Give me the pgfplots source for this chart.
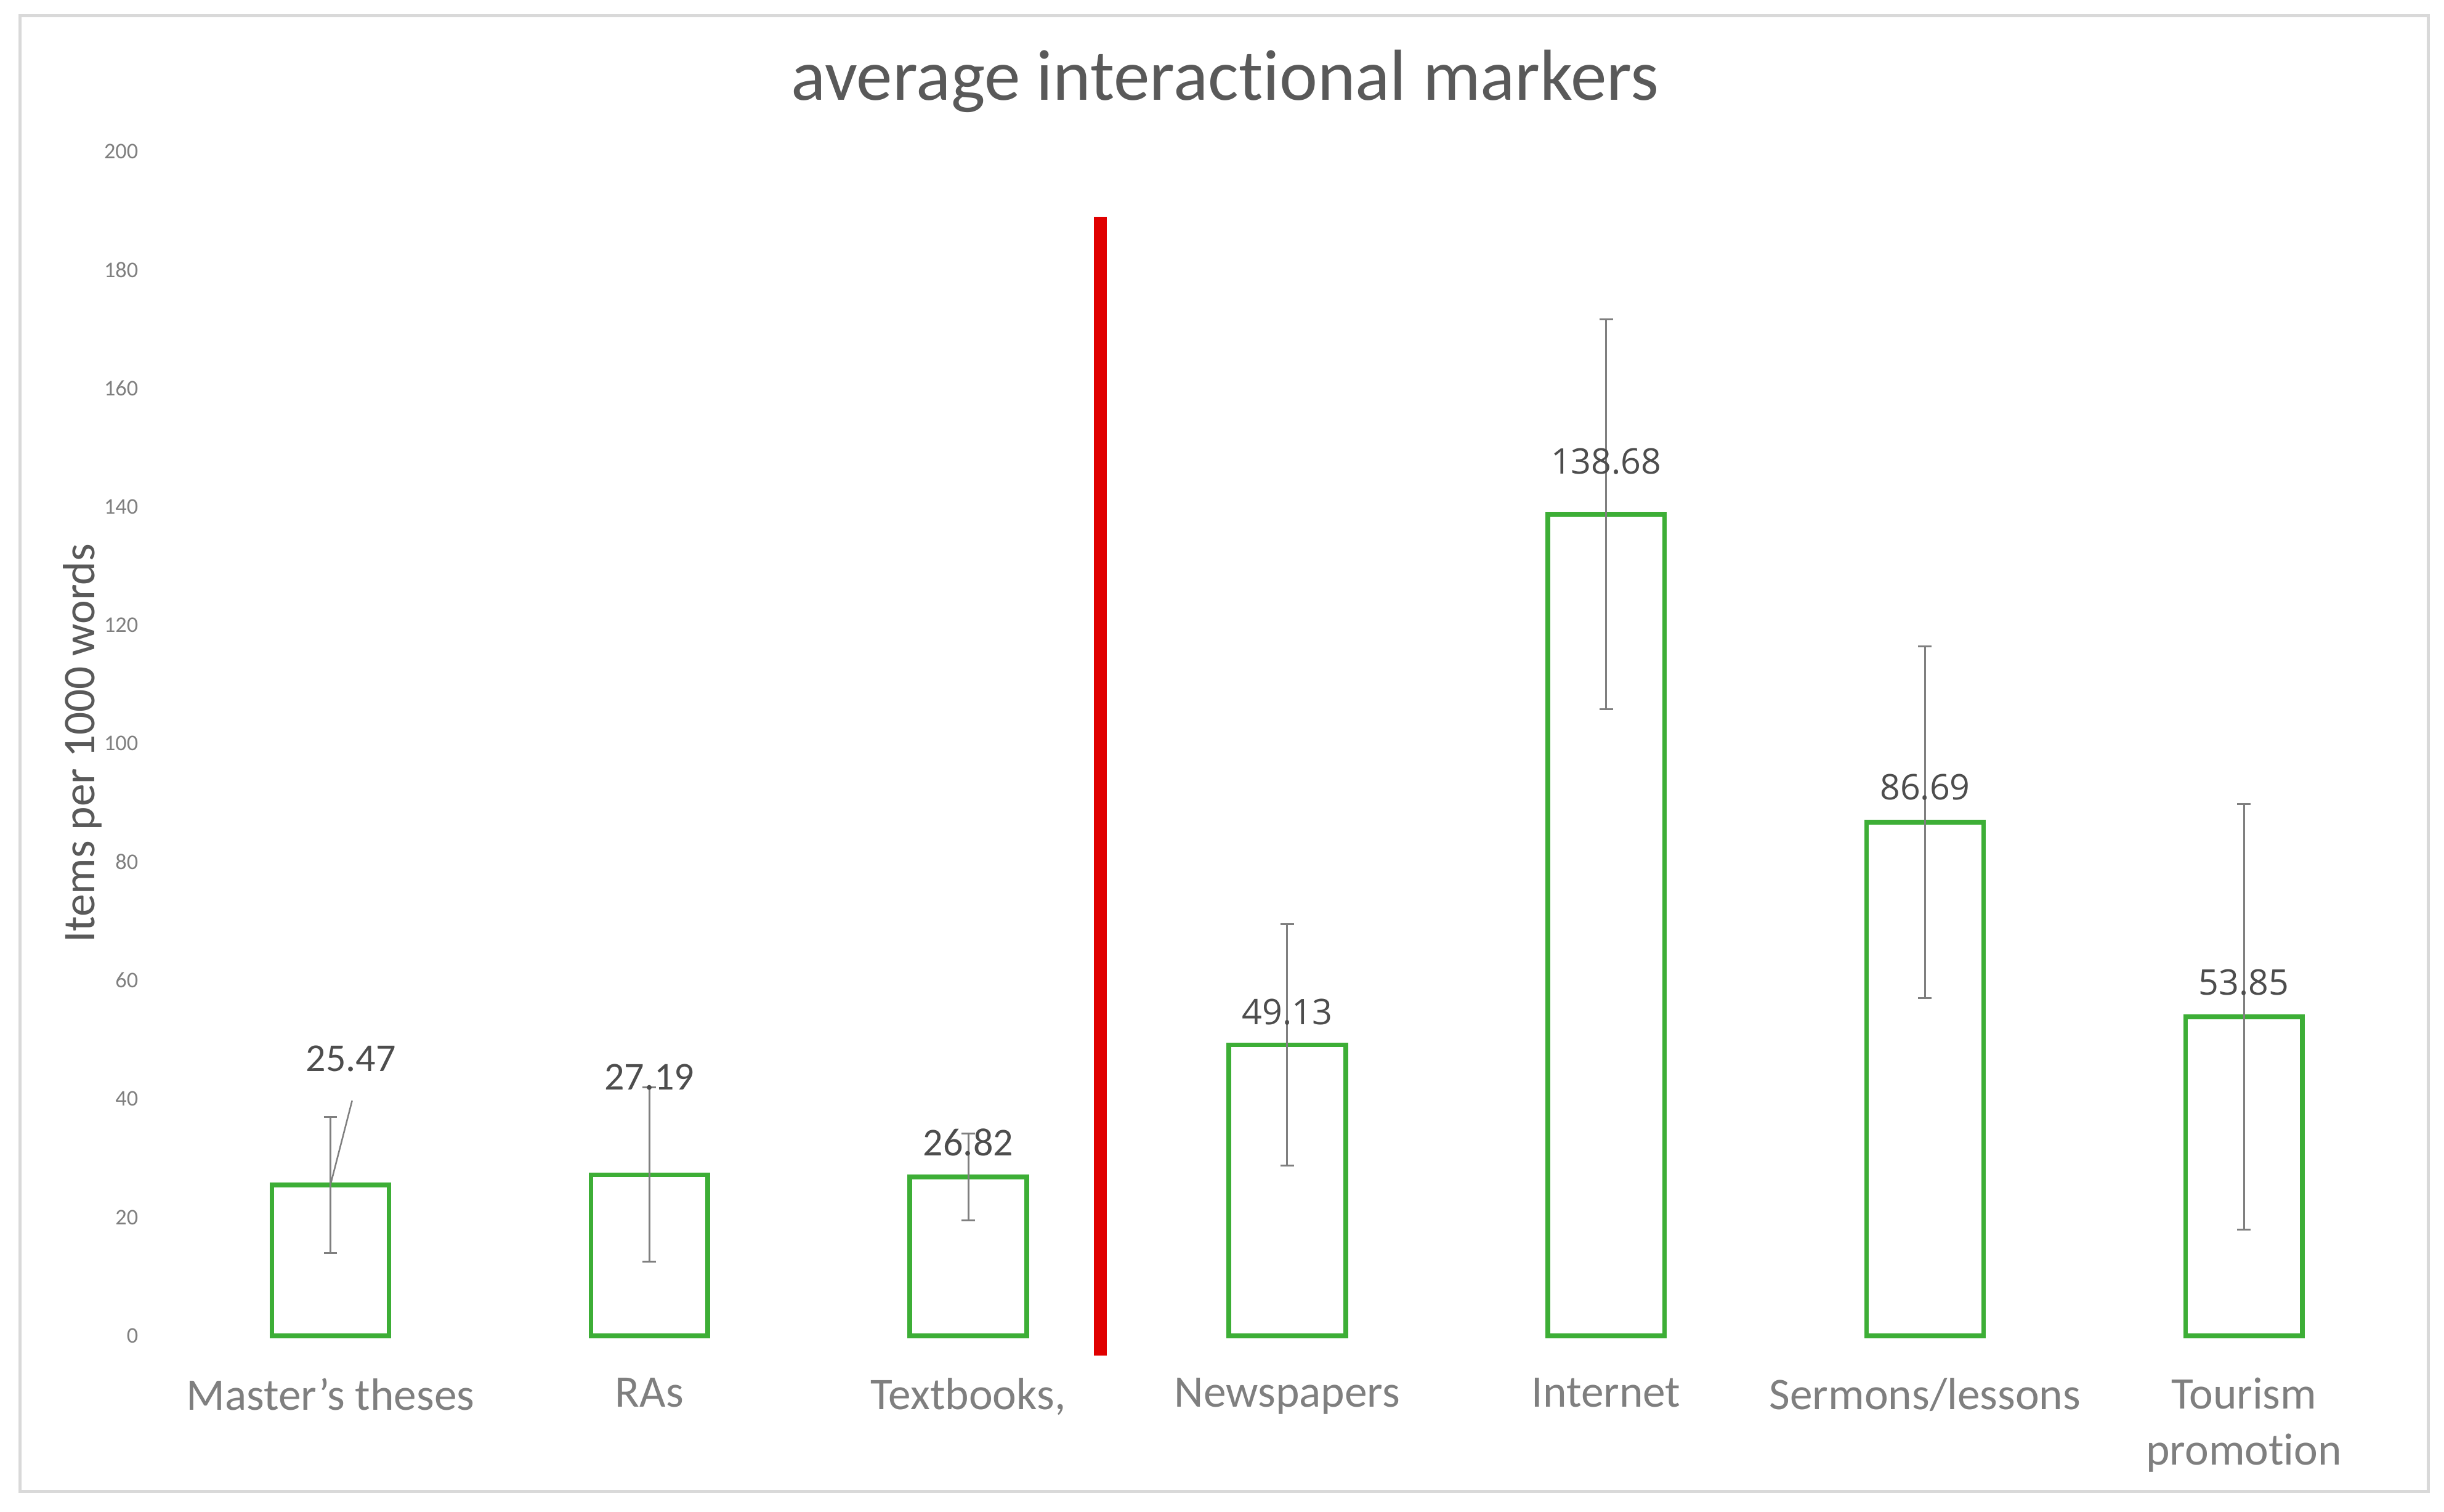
\documentclass[border=0pt]{standalone}
\usepackage{pgfplots}
\pgfplotsset{compat=1.18}
\usepackage{fontspec}
\setmainfont{Carlito}[Ligatures=NoCommon]
\newfontfamily\opensans{Open Sans}
\definecolor{bargreen}{HTML}{3DAE36}
\definecolor{errgray}{HTML}{7F7F7F}
\definecolor{titlegray}{HTML}{595959}
\definecolor{ticklab}{HTML}{7F7F7F}
\definecolor{labgray}{HTML}{4D4D4D}
\definecolor{framegray}{HTML}{D9D9D9}
\definecolor{redline}{HTML}{E00000}
\begin{document}
\begin{tikzpicture}[x=0.3pt,y=-0.3pt]
\path[fill=white] (0,0) rectangle (1568,970);
\draw[framegray, line width=0.6pt] (13,10) rectangle (1558,957);
\begin{axis}[
  at={(32.91pt,-257.1pt)}, anchor=south west,
  scale only axis, width=429.69pt, height=228pt,
  xmin=-0.5, xmax=6.5, ymin=0, ymax=200,
  clip=false,
  axis line style={draw=none},
  major tick length=0pt,
  xtick={0,1,2,3,4,5,6},
  xticklabels={Master’s theses, RAs, {Textbooks,}, Newspapers, Internet, Sermons/lessons, Tourism\\promotion},
  xticklabel style={font=\fontsize{8.7pt}{10.8pt}\selectfont, text=ticklab, align=center, yshift=-4.6pt},
  ytick={0,20,...,200},
  yticklabel style={font=\fontsize{4.3pt}{5pt}\selectfont, text=ticklab, xshift=-2.8pt},
  /pgf/number format/assume math mode=true,
  ylabel={Items per 1000 words},
  ylabel style={at={(axis description cs:-0.0396,0.5)}, anchor=center, font=\fontsize{8.7pt}{10pt}\selectfont, text=titlegray},
  title={average interactional markers},
  title style={at={(axis description cs:0.4722,1.033)}, anchor=center, font=\fontsize{13.9pt}{16pt}\selectfont, text=titlegray},
]
% data labels
\addplot[draw=none, mark=none, nodes near coords, point meta=explicit symbolic,
  nodes near coords style={anchor=center, font=\fontsize{7.6pt}{9pt}\selectfont, text=labgray, inner sep=0pt}]
  coordinates {(0.064,46.8)[25.47] (1,43.7)[27.19] (2,32.6)[26.82]};
\addplot[draw=none, mark=none, nodes near coords, point meta=explicit symbolic,
  nodes near coords style={anchor=center, font=\opensans\fontsize{6.8pt}{8pt}\selectfont, text=labgray, inner sep=0pt}]
  coordinates {(3,54.7)[49.13] (4,147.6)[138.68] (5,92.6)[86.69] (6,59.7)[53.85]};
% leader line for 25.47
\draw[errgray, line width=0.3pt] (axis cs:0.068,39.7) -- (axis cs:0,25.47);
% bars with error bars
\addplot[ybar, bar width=22.5pt, draw=bargreen, fill=none, line width=0.9pt,
  error bars/.cd, y dir=both, y explicit,
  error bar style={errgray, line width=0.35pt},
  error mark options={errgray, mark size=1.3pt, line width=0.35pt, rotate=90}]
  coordinates {
    (0,25.47) +- (0,11.5)
    (1,27.19) +- (0,14.7)
    (2,26.82) +- (0,7.3)
    (3,49.13) +- (0,20.4)
    (4,138.68) +- (0,32.9)
    (5,86.69) +- (0,29.7)
    (6,53.85) +- (0,35.9)
  };
% red separator
\addplot[redline, line width=2.4pt, mark=none] coordinates {(2.414,188.9) (2.414,-3.4)};
\end{axis}
\end{tikzpicture}
\end{document}
